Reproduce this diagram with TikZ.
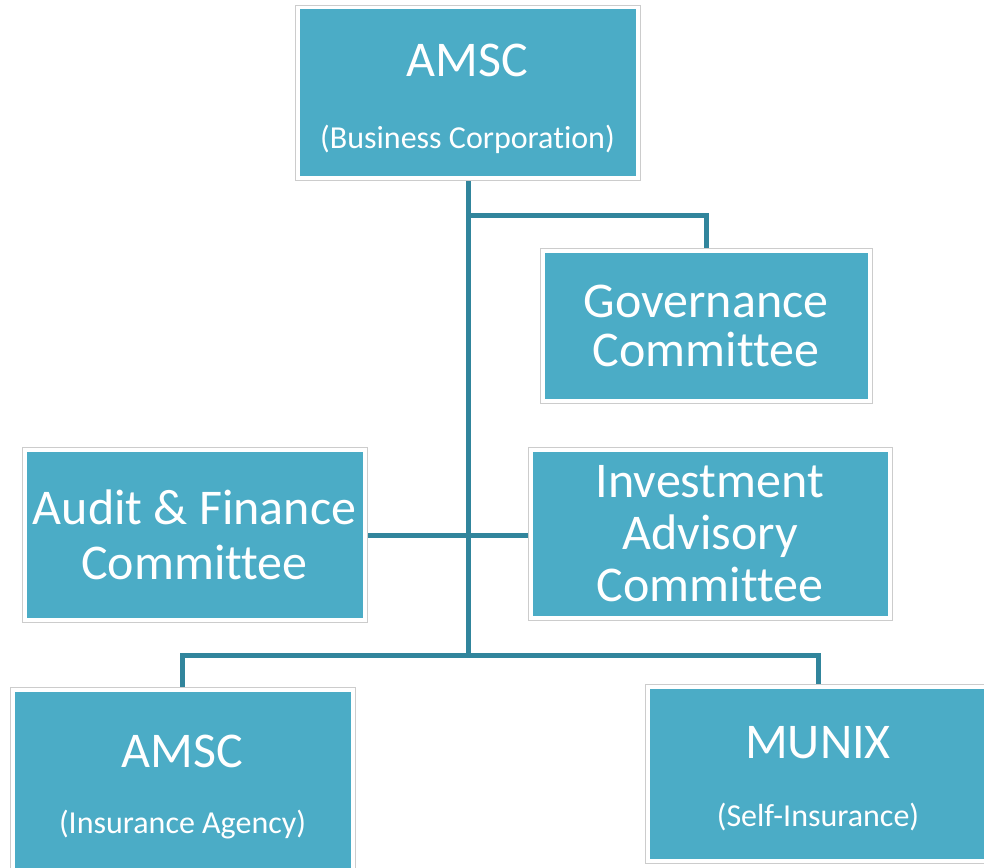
\documentclass[tikz,border=0pt]{standalone}
\usepackage{fontspec}
\setmainfont{Carlito}[Ligatures=NoCommon]
\definecolor{boxfill}{HTML}{4BACC6}
\definecolor{linkcol}{HTML}{31859C}
\newcommand{\subline}[1]{{\fontsize{32}{34}\selectfont #1}}
\begin{document}
\begin{tikzpicture}[x=1pt,y=-1pt,
    unit/.style={rectangle, fill=white, draw=black!20, line width=0.8pt,
        path picture={\fill [boxfill]
            ([shift={(4.5pt,4.5pt)}]path picture bounding box.south west) rectangle
            ([shift={(-4.5pt,-4.5pt)}]path picture bounding box.north east);},
        text=white, align=center, inner sep=0pt,
        font=\fontsize{50}{52}\selectfont},
    link/.style={draw=linkcol, line width=5pt}]
    \useasboundingbox (0,0) rectangle (984,867);
    \clip (0,0) rectangle (984,867);
    % links go underneath the boxes
    \coordinate (hub) at (468,655);
    \coordinate (tap) at (468,215);
    \draw [link] (468,150) -- (hub);
    \draw [link] (tap) -| (706,300);
    \draw [link] (194,535) -- (710,535);
    \draw [link] (182.5,720) |- (hub) -| (818,720);
    % boxes
    \node [unit, minimum width=345, minimum height=175] (corp) at (467.5,92.5)
        {\rule{0pt}{46pt}AMSC\\[20pt]\subline{(Business Corporation)}};
    \node [unit, minimum width=332, minimum height=155, font=\fontsize{50}{49}\selectfont]
        (gov) at (706,325.5) {Governance\\Committee};
    \node [unit, minimum width=345, minimum height=175, font=\fontsize{50}{55}\selectfont]
        (audit) at (194.5,534.5) {Audit \& Finance\\Committee};
    \node [unit, minimum width=364, minimum height=173] (invest) at (710,533.5)
        {Investment\\Advisory\\Committee};
    \node [unit, minimum width=345, minimum height=196] (agency) at (182.5,785)
        {};
    \node [unit, minimum width=345, minimum height=179] (munix) at (818,773.5)
        {\rule{0pt}{43pt}MUNIX\\[16pt]\subline{(Self-Insurance)}};
    \node [font=\fontsize{50}{52}\selectfont, text=white, align=center] (agencytxt)
        at (182.5,787) {AMSC\\[14pt]\subline{(Insurance Agency)}};
\end{tikzpicture}
\end{document}
